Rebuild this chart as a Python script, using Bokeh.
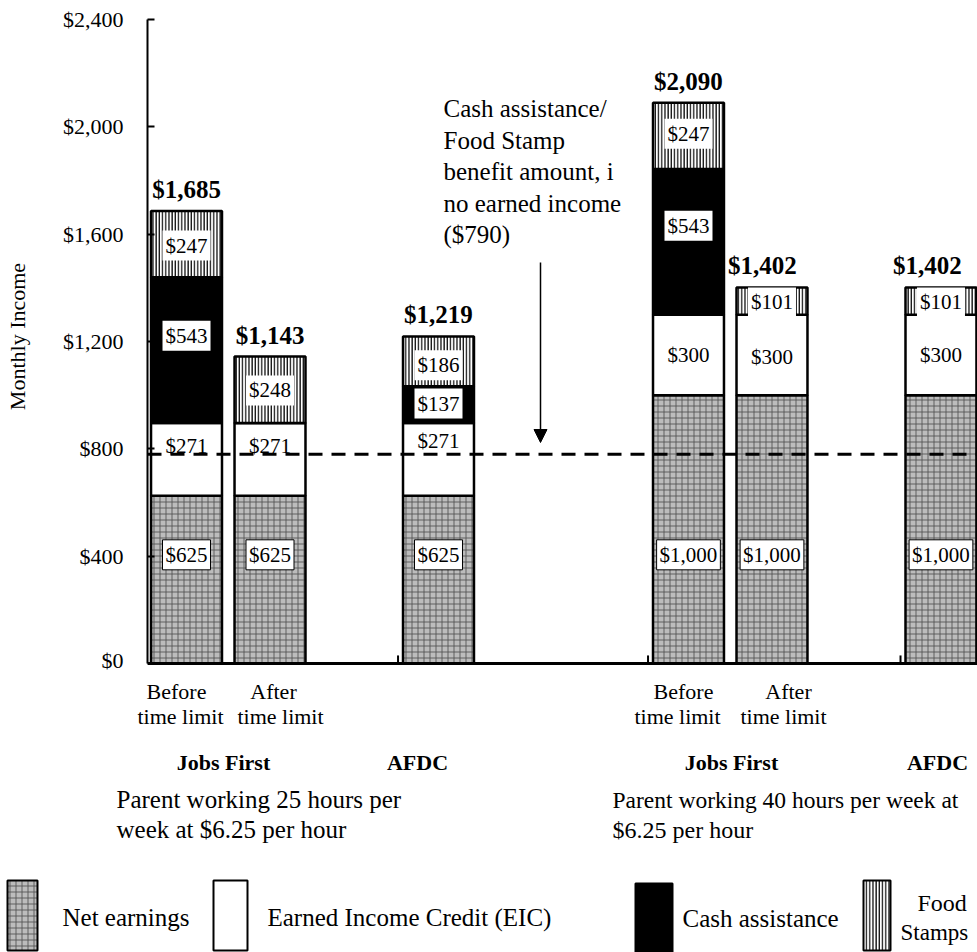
import numpy as np
from bokeh.plotting import figure
from bokeh.layouts import column
from bokeh.models import (Range1d, Span, Label, FixedTicker, NumeralTickFormatter,
                          Arrow, NormalHead, ColumnDataSource)
from bokeh.core.properties import value
from bokeh.embed import file_html
from bokeh.resources import INLINE

# ---------------- data ----------------
bar_names = ["Before time limit", "After time limit", "AFDC",
             "Before time limit", "After time limit", "AFDC"]
net_earnings = [625, 625, 625, 1000, 1000, 1000]
eic = [271, 271, 271, 300, 300, 300]
cash_assistance = [543, 0, 137, 543, 0, 0]
food_stamps = [247, 248, 186, 247, 101, 101]
totals = [1685, 1143, 1219, 2090, 1402, 1402]
benefit_no_earnings = 780          # dashed reference line
benefit_label = "($790)"
y_ticks = [0, 400, 800, 1200, 1600, 2000, 2400]
legend_names = ["Net earnings", "Earned Income Credit (EIC)", "Cash assistance", "Food", "Stamps"]

# ---------------- layout ----------------
FONT = "Liberation Serif"
W = 977
H_TOP, H_BOT = 672, 280
LEFT = 147
PXD = 644 / 2400                # px per dollar
PITCH = 83.0                    # px per x unit
ZERO_Y = 663                    # page row of $0
bar_x = [0.47, 1.476, 3.506, 6.518, 7.524, 9.56]
bar_w = 0.855
total_dx = [0, 0, 0, 0, -0.115, -0.163]

def tx(px):
    return (px - LEFT) / PITCH

def ty(py):
    return (ZERO_Y - py) / PXD

p = figure(width=W, height=H_TOP, output_backend="svg", toolbar_location=None,
           x_range=Range1d(0, (W - LEFT) / PITCH),
           y_range=Range1d(-(H_TOP - ZERO_Y) / PXD, ZERO_Y / PXD),
           x_axis_location=None, min_border_left=LEFT, min_border_right=0,
           min_border_top=0, min_border_bottom=0)
p.frame_align = False
p.outline_line_color = None
p.grid.visible = False

ax = p.yaxis[0]
ax.bounds = (0, 2400)
ax.ticker = FixedTicker(ticks=y_ticks)
ax.formatter = NumeralTickFormatter(format="$0,0")
ax.major_label_text_font = FONT
ax.major_label_text_font_size = "22px"
ax.major_label_text_color = "black"
ax.major_tick_in = 7
ax.major_tick_out = 0
ax.minor_tick_line_color = None
ax.axis_line_width = 2
ax.major_tick_line_width = 2
ax.major_label_standoff = 24
ax.axis_label = "Monthly Income"
ax.axis_label_text_font = FONT
ax.axis_label_text_font_size = "22px"
ax.axis_label_text_font_style = "normal"
ax.axis_label_text_color = "black"
ax.axis_label_standoff = 30

net = np.array(net_earnings, float)
e = np.array(eic, float)
c = np.array(cash_assistance, float)
f = np.array(food_stamps, float)
b1 = net
b2 = b1 + e
b3 = b2 + c
b4 = b3 + f

NET_STYLE = dict(fill_color="#bcbcbc", hatch_pattern="cross", hatch_color="#505050",
                 hatch_scale=6, hatch_weight=1, hatch_alpha=0.85)
FS_STYLE = dict(fill_color="white", hatch_pattern="vertical_line", hatch_color="#111111",
                hatch_scale=3.2, hatch_weight=1.4)

p.vbar(x=bar_x, width=bar_w, bottom=0, top=b1, line_color="black", line_width=2.5, **NET_STYLE)
p.vbar(x=bar_x, width=bar_w, bottom=b1, top=b2, fill_color="white", line_color="black", line_width=2.5)
p.vbar(x=bar_x, width=bar_w, bottom=b2, top=b3, fill_color="black", line_color="black", line_width=2.5)
p.vbar(x=bar_x, width=bar_w, bottom=b3, top=b4, line_color="black", line_width=2.5, **FS_STYLE)

# baseline + separator ticks
p.add_layout(Span(location=0, dimension="width", line_color="black", line_width=3))
sep_x = [bar_x[i] - bar_w / 2 - 0.06 for i in (2, 3, 5)]
p.segment(x0=sep_x, y0=[0] * 3, x1=sep_x, y1=[30] * 3, line_color="black", line_width=2)

# dashed benefit line
p.add_layout(Span(location=benefit_no_earnings, dimension="width", line_color="black",
                  line_width=3, line_dash="14 9"))

def money(v):
    return "${:,}".format(int(v))

def seg_labels(vals, bottoms, fracs, boxed, border):
    xs, ys, ts = [], [], []
    for i, v in enumerate(vals):
        if v <= 0:
            continue
        xs.append(bar_x[i]); ys.append(bottoms[i] + v * fracs[i]); ts.append(money(v))
    src = ColumnDataSource(dict(x=xs, y=ys, text=ts))
    kw = dict(x="x", y="y", text="text", source=src, text_font=value(FONT),
              text_font_size="21px", text_align="center", text_baseline="middle",
              text_color="black")
    if boxed:
        kw.update(background_fill_color="white", padding=3)
        if border:
            kw.update(border_line_color="black", border_line_width=1)
    p.text(**kw)

seg_labels(net_earnings, [0] * 6, [405 / v for v in net_earnings], True, True)
seg_labels(eic, b1, [0.68, 0.68, 0.76, 0.5, 0.47, 0.5], False, False)
seg_labels(cash_assistance, b2, [0.6, 0.6, 0.53, 0.61, 0.6, 0.6], True, False)
seg_labels(food_stamps, b3, [0.48, 0.49, 0.42, 0.53, 0.45, 0.45], True, False)

# totals
p.text(x=[x + d for x, d in zip(bar_x, total_dx)], y=[t + 30 for t in totals],
       text=[money(t) for t in totals],
       text_font=value(FONT), text_font_size="25px", text_font_style="bold",
       text_align="center", text_baseline="bottom", text_color="black")

def lab(fig, text, x, y, size="22px", align="left", style="normal"):
    fig.add_layout(Label(x=x, y=y, text=text, text_font=FONT, text_font_size=size,
                         text_align=align, text_baseline="middle", text_font_style=style,
                         text_color="black"))

# annotation
for i, line in enumerate(["Cash assistance/", "Food Stamp", "benefit amount, i",
                          "no earned income", benefit_label]):
    lab(p, line, tx(443), ty(108 + i * 31.5), size="25px")
p.add_layout(Arrow(end=NormalHead(size=13, fill_color="black", line_color="black"),
                   x_start=tx(540), y_start=ty(262), x_end=tx(540), y_end=ty(442),
                   line_color="black", line_width=1.5))

# ---------------- bottom panel: category labels & legend ----------------
q = figure(width=W, height=H_BOT, output_backend="svg", toolbar_location=None,
           x_range=Range1d(0, W), y_range=Range1d(H_TOP + H_BOT, H_TOP),
           x_axis_location=None, y_axis_location=None,
           min_border_left=0, min_border_right=0, min_border_top=0, min_border_bottom=0)
q.frame_align = False
q.outline_line_color = None
q.grid.visible = False

lab(q, "Before", 176, 691, size="22px", align="center")
lab(q, "time limit", 180, 716, size="22px", align="center")
lab(q, "After", 273, 691, size="22px", align="center")
lab(q, "time limit", 280, 716, size="22px", align="center")
lab(q, "Jobs First", 223, 762, size="22px", align="center", style="bold")
lab(q, "AFDC", 417, 762, size="22px", align="center", style="bold")
lab(q, "Parent working 25 hours per", 116, 799, size="25px")
lab(q, "week at $6.25 per hour", 116, 829, size="25px")
lab(q, "Before", 683, 691, size="22px", align="center")
lab(q, "time limit", 677, 716, size="22px", align="center")
lab(q, "After", 788, 691, size="22px", align="center")
lab(q, "time limit", 783, 716, size="22px", align="center")
lab(q, "Jobs First", 731, 762, size="22px", align="center", style="bold")
lab(q, "AFDC", 937, 762, size="22px", align="center", style="bold")
lab(q, "Parent working 40 hours per week at", 612, 799, size="23.5px")
lab(q, "$6.25 per hour", 612, 829, size="24px")

# legend swatches
q.quad(left=[7], right=[37], top=[880], bottom=[950], line_color="black", line_width=2, **NET_STYLE)
q.quad(left=[213], right=[247], top=[880], bottom=[950], fill_color="white", line_color="black", line_width=2)
q.quad(left=[635], right=[672], top=[883], bottom=[955], fill_color="black", line_color="black", line_width=2)
q.quad(left=[863], right=[890], top=[880], bottom=[950], line_color="black", line_width=2, **FS_STYLE)
lab(q, legend_names[0], 62, 917, size="25px")
lab(q, legend_names[1], 267, 917, size="25px")
lab(q, legend_names[2], 682, 918, size="25px")
lab(q, legend_names[3], 917, 902, size="24px")
lab(q, legend_names[4], 900, 932, size="23px")

layout = column(p, q, spacing=0)
open("out.html", "w").write(file_html(layout, INLINE))
